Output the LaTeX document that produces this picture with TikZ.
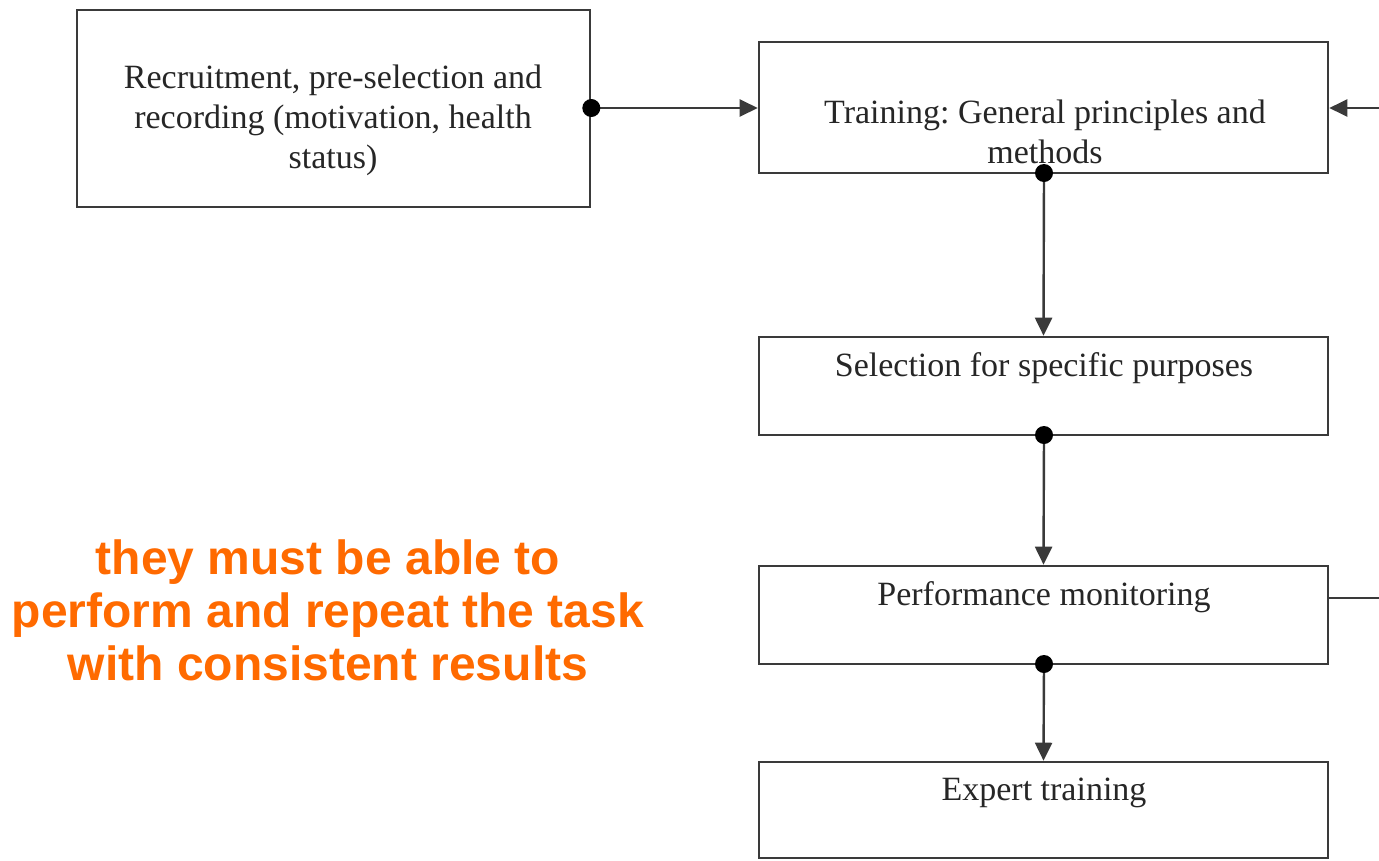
\documentclass[tikz,border=0pt]{standalone}
\usepackage{fontspec}
\setmainfont{Liberation Serif}
\newfontfamily\notefont{Liberation Sans}
\usetikzlibrary{arrows.meta}
\definecolor{linegray}{HTML}{3A3A3A}
\definecolor{noteorange}{HTML}{FF6A00}
\begin{document}
\frenchspacing
\begin{tikzpicture}[x=1pt,y=-1pt,
  stagebox/.style={draw=linegray,line width=2.6pt,fill=white,inner sep=0pt},
  stagetext/.style={align=center,font=\fontsize{34}{40}\selectfont,text=black!85,inner sep=0pt},
  flow/.style={draw=linegray,line width=2.4pt,-{Triangle[length=18pt,width=17pt]}},
  plain/.style={draw=linegray,line width=2.4pt},
  dot/.style={circle,fill=black,inner sep=0pt,minimum size=18pt}]
\useasboundingbox (0,0) rectangle (1379,860);
\fill[white] (0,0) rectangle (1379,860);

% stage boxes
\node[stagebox,minimum width=513pt,minimum height=197pt] (rec) at (333.5,108.5) {};
\node[stagebox,minimum width=569pt,minimum height=131pt] (train) at (1043.5,107.5) {};
\node[stagebox,minimum width=569pt,minimum height=98pt] (sel) at (1043.5,386) {};
\node[stagebox,minimum width=569pt,minimum height=98pt] (perf) at (1043.5,615) {};
\node[stagebox,minimum width=569pt,minimum height=96pt] (exp) at (1043.5,810) {};

% box labels
\node[stagetext] (recT) at (333,120) {Recruitment, pre-selection and\\recording (motivation, health\\status)};
\node[stagetext] (trainT) at (1045,132) {Training: General principles and\\methods};
\node[stagetext] (selT) at (1044,368) {Selection for specific purposes};
\node[stagetext] (perfT) at (1044,597) {Performance monitoring};
\node[stagetext] (expT) at (1044,793) {Expert training};

% connector points
\coordinate (recOut) at (rec.east |- 0,108);
\coordinate (trainIn) at (train.west |- 0,108);
\coordinate (trainR) at (train.east |- 0,108);
\coordinate (rightIn) at (1379,108);
\coordinate (perfR) at (perf.east |- 0,598);
\coordinate (rightOut) at (1379,598);
\coordinate (trainB) at (1044,173);
\coordinate (selB) at (1044,435);
\coordinate (perfB) at (1044,664);

% connectors
\draw[flow] (recOut) -- (trainIn);
\draw[flow] (rightIn) -- (trainR);
\draw[plain] (perfR) -- (rightOut);
\draw[flow] (trainB) -- (sel.north);
\draw[flow] (selB) -- (perf.north);
\draw[flow] (perfB) -- (exp.north);

% junction dots
\node[dot] (d1) at (recOut) {};
\node[dot] (d2) at (trainB) {};
\node[dot] (d3) at (selB) {};
\node[dot] (d4) at (perfB) {};

% note
\node[align=center,font=\notefont\bfseries\fontsize{48}{53}\selectfont,text=noteorange,inner sep=0pt] (note) at (328,610)
  {they must be able to\\perform and repeat the task\\with consistent results};
\end{tikzpicture}
\end{document}
